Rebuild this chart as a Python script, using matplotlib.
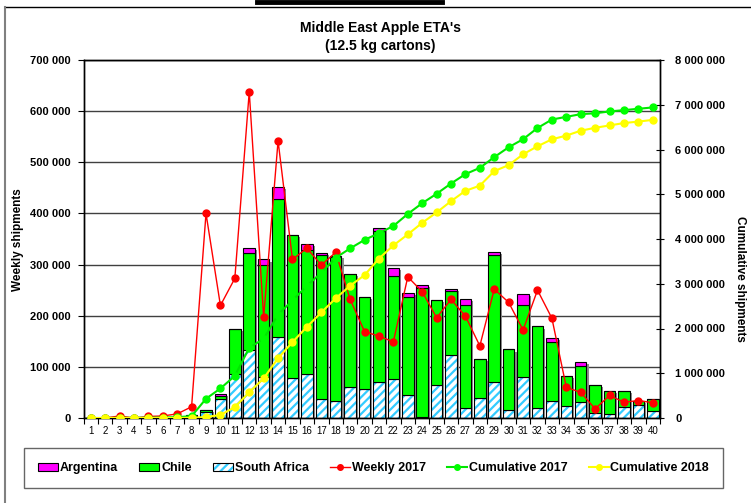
import numpy as np
import matplotlib
matplotlib.use("Agg")
import matplotlib.pyplot as plt
import matplotlib.transforms as mtransforms
from matplotlib.patches import Patch
from matplotlib.lines import Line2D
from matplotlib.ticker import FuncFormatter, FixedLocator

plt.rcParams['font.family'] = ['Liberation Sans', 'DejaVu Sans']
plt.rcParams['hatch.linewidth'] = 1.6

# data
weeks = np.arange(1, 41)

# weekly shipments 2018 by origin (cartons)
argentina = [0, 0, 0, 0, 0, 0, 0, 0, 1000, 4000,
             1000, 10000, 10000, 24000, 0, 13000, 4000, 1000, 0, 0,
             6000, 15000, 8000, 7000, 0, 4000, 12000, 0, 6000, 0,
             22000, 0, 8000, 0, 7000, 0, 0, 0, 0, 0]
chile = [0, 0, 0, 0, 0, 0, 0, 2000, 4000, 6000,
         87000, 189000, 220000, 269000, 280000, 241000, 282000, 281000, 222000, 180000,
         295000, 202000, 193000, 253000, 166000, 125000, 201000, 75000, 248000, 118000,
         139000, 160000, 115000, 59000, 71000, 56000, 45000, 31000, 8000, 24000]
south_africa = [0, 0, 0, 0, 0, 0, 0, 3000, 11000, 37000,
                87000, 133000, 80000, 159000, 78000, 87000, 37000, 34000, 60000, 56000,
                71000, 76000, 44000, 1000, 65000, 123000, 19000, 40000, 71000, 16000,
                81000, 19000, 33000, 24000, 31000, 9000, 8000, 22000, 25000, 14000]

weekly_2017 = [0, 0, 4000, 0, 3000, 4000, 8000, 22000, 400000, 220000,
               273000, 638000, 197000, 542000, 310000, 332000, 299000, 324000, 232000, 169000,
               160000, 149000, 276000, 247000, 196000, 232000, 199000, 141000, 252000, 226000,
               172000, 250000, 195000, 60000, 50000, 18000, 44000, 31000, 34000, 30000]

cum_2017 = [0, 0, 4000, 4000, 7000, 11000, 19000, 41000, 430000, 660000,
            940000, 1570000, 1770000, 2310000, 2630000, 2950000, 3250000, 3580000, 3790000, 3980000,
            4130000, 4290000, 4560000, 4800000, 5010000, 5240000, 5450000, 5590000, 5830000, 6050000,
            6230000, 6480000, 6670000, 6730000, 6790000, 6810000, 6850000, 6880000, 6910000, 6940000]
cum_2018 = [0, 0, 0, 0, 0, 0, 0, 5000, 21000, 68000,
            243000, 575000, 885000, 1337000, 1695000, 2036000, 2359000, 2674000, 2956000, 3192000,
            3564000, 3857000, 4102000, 4362000, 4593000, 4845000, 5077000, 5192000, 5517000, 5651000,
            5893000, 6072000, 6228000, 6311000, 6420000, 6485000, 6538000, 6591000, 6624000, 6662000]

argentina = np.array(argentina)
chile = np.array(chile)
south_africa = np.array(south_africa)

MAGENTA = '#FF00FF'
GREEN = '#00FF00'
SA_BLUE = '#33CCFF'
RED = '#FF0000'
CUM17 = '#00E600'
CUM18 = '#FFFF00'

fig = plt.figure(figsize=(7.51, 5.03), dpi=100)
W, H = 751, 503
ax = fig.add_axes([83.5 / W, 1 - 418 / H, (660 - 83.5) / W, (418 - 60) / H])

width = 0.8
# grey drop shadow behind each stacked bar
shadow_tr = mtransforms.offset_copy(ax.transData, fig=fig, x=1.5, y=-1.5, units='points')
total = south_africa + chile + argentina
ax.bar(weeks, total, width, color='#8c8c8c', linewidth=0, transform=shadow_tr, zorder=1)

# south africa: blue hatch on white, then a black outline
ax.bar(weeks, south_africa, width, facecolor='white', edgecolor=SA_BLUE,
       hatch='////', linewidth=0, zorder=2)
ax.bar(weeks, south_africa, width, fill=False, edgecolor='black', linewidth=0.8, zorder=2)
ax.bar(weeks, chile, width, bottom=south_africa, color=GREEN,
       edgecolor='black', linewidth=0.8, zorder=2)
ax.bar(weeks, argentina, width, bottom=south_africa + chile, color=MAGENTA,
       edgecolor='black', linewidth=0.8, zorder=2)

ax.plot(weeks, weekly_2017, color=RED, lw=1, marker='o', ms=5, zorder=3)

ax.set_xlim(0.5, 40.5)
ax.set_ylim(0, 700000)
ax.set_yticks(np.arange(0, 700001, 100000))
fmt = FuncFormatter(lambda v, p: f'{int(v):,}'.replace(',', ' '))
ax.yaxis.set_major_formatter(fmt)
ax.set_axisbelow(True)
ax.grid(axis='y', color='#404040', lw=1)

ax.set_xticks(weeks)
ax.set_xticklabels([str(w) for w in weeks])
ax.xaxis.set_minor_locator(FixedLocator(np.arange(0.5, 41, 1)))
ax.tick_params(axis='x', which='major', length=0, pad=6, labelsize=7)
ax.tick_params(axis='x', which='minor', length=4, direction='out', width=0.8)
ax.tick_params(axis='y', length=4, direction='out', width=0.8, pad=5)
for lab in ax.get_yticklabels():
    lab.set_fontweight('bold')
    lab.set_fontsize(8)
for s in ax.spines.values():
    s.set_color('black')
    s.set_linewidth(1)

ax2 = ax.twinx()
ax2.plot(weeks, cum_2017, color=CUM17, lw=1.5, marker='o', ms=5, mfc=GREEN, mec=GREEN, zorder=3)
ax2.plot(weeks, cum_2018, color=CUM18, lw=1.5, marker='o', ms=5, zorder=4)
ax2.set_ylim(0, 8000000)
ax2.set_yticks(np.arange(0, 8000001, 1000000))
ax2.yaxis.set_major_formatter(fmt)
ax2.tick_params(axis='y', length=6, direction='inout', width=0.8, pad=8)
for lab in ax2.get_yticklabels():
    lab.set_fontweight('bold')
    lab.set_fontsize(8)
for s in ax2.spines.values():
    s.set_color('black')
    s.set_linewidth(1)

fig.text(18 / W, 1 - 240 / H, 'Weekly shipments', rotation=90, ha='center', va='center',
         fontsize=8.5, fontweight='bold')
fig.text(740 / W, 1 - 279 / H, 'Cumulative shipments', rotation=-90, ha='center', va='center',
         fontsize=8.5, fontweight='bold')
fig.text(380 / W, 1 - 37 / H, "Middle East Apple ETA's\n(12.5 kg cartons)", ha='center',
         va='center', fontsize=10, fontweight='bold', linespacing=1.3)

# outer frame bits and the black strip at the top
fig.add_artist(Line2D([5 / W, 1], [1 - 7 / H, 1 - 7 / H], color='black', lw=1))
fig.add_artist(Line2D([5 / W, 5 / W], [0, 1 - 7 / H], color='#808080', lw=1.5))
fig.add_artist(Line2D([257 / W, 442 / W], [1 - 2 / H, 1 - 2 / H], color='black', lw=3.5))

handles = [
    Patch(facecolor=MAGENTA, edgecolor='black', lw=0.8),
    Patch(facecolor=GREEN, edgecolor='black', lw=0.8),
    (Patch(facecolor='white', edgecolor=SA_BLUE, hatch='////', lw=0),
     Patch(fill=False, edgecolor='black', lw=0.8)),
    Line2D([], [], color=RED, lw=1, marker='o', ms=4),
    Line2D([], [], color=CUM17, lw=1.5, marker='o', ms=4, mfc=GREEN, mec=GREEN),
    Line2D([], [], color=CUM18, lw=1.5, marker='o', ms=4),
]
labels = ['Argentina', 'Chile', 'South Africa', 'Weekly 2017', 'Cumulative 2017', 'Cumulative 2018']
leg = fig.legend(handles, labels, loc='lower left',
                 bbox_to_anchor=(18 / W, 1 - 494 / H, (729 - 18) / W, 42 / H),
                 mode='expand', ncol=6, frameon=True, fancybox=False, borderpad=1.1,
                 handlelength=1.6, handleheight=0.6, handletextpad=0.15, columnspacing=1.0,
                 prop={'weight': 'bold', 'size': 9})
leg.get_frame().set_edgecolor('#404040')
leg.get_frame().set_linewidth(1)

fig.savefig('out.png', dpi=100, facecolor='white')
